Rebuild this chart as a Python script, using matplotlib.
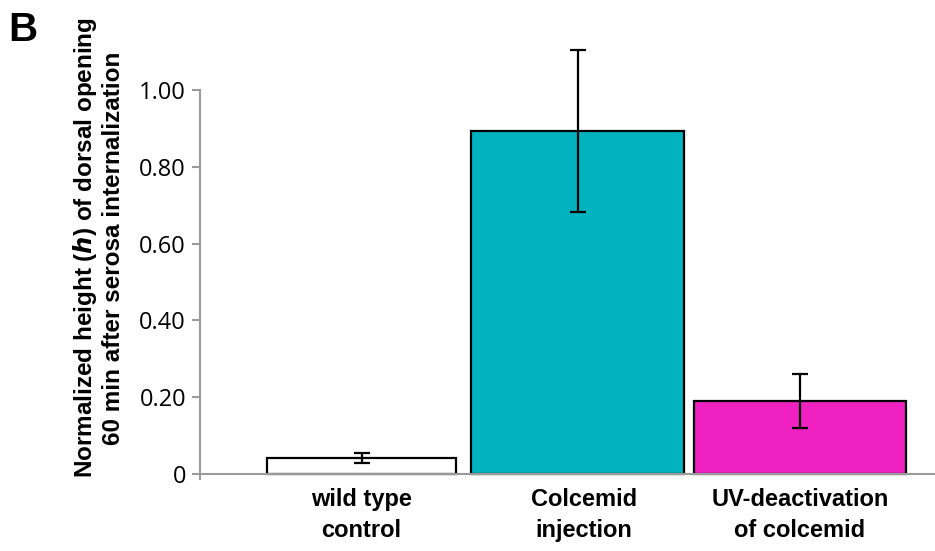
import numpy as np
import matplotlib.pyplot as plt

# data
groups = ["wild type\ncontrol", "Colcemid\ninjection", "UV-deactivation\nof colcemid"]
means = [0.042, 0.893, 0.190]
errors = [0.013, 0.210, 0.070]
colors = ["#FFFFFF", "#00B3BF", "#EF21C1"]
yticks = [0, 0.2, 0.4, 0.6, 0.8, 1.0]
ytick_labels = ["0", "0.20", "0.40", "0.60", "0.80", "1.00"]

fig = plt.figure(figsize=(9.35, 5.51), dpi=100)
ax = fig.add_axes([200 / 935, 71.6 / 551, 735 / 935, 389.4 / 551])

x = np.arange(len(groups)) + np.array([0.0, 0.0, 0.03])
widths = [0.875, 0.985, 0.985]

ax.bar(x, means, width=widths, color=colors, edgecolor="black", linewidth=1.6, zorder=2)
eb = ax.errorbar(x, means, yerr=errors, fmt="none", ecolor="black",
                 elinewidth=1.6, capsize=6, capthick=1.6, zorder=3)
for art in eb.lines[1] + eb.lines[2]:
    art.set_clip_on(False)

ax.set_xlim(-0.748, 2.655)
ax.set_ylim(-0.014, 1.0)
ax.spines["bottom"].set_position(("data", 0))
ax.spines["top"].set_visible(False)
ax.spines["right"].set_visible(False)
for s in ["left", "bottom"]:
    ax.spines[s].set_color("#9a9a9a")
    ax.spines[s].set_linewidth(1.5)

ax.set_yticks(yticks)
ax.set_yticklabels(ytick_labels, fontsize=17, family="Open Sans")
ax.tick_params(axis="y", direction="out", length=6, width=1.5, color="#9a9a9a", pad=4)

ax.set_xticks(np.arange(len(groups)) + np.array([0.0, 0.03, 0.03]))
ax.set_xticklabels(groups, fontsize=17, fontweight="bold", family="Liberation Sans",
                   linespacing=1.45)
ax.tick_params(axis="x", length=0, pad=10)

fig.text(98 / 935, 1 - 248 / 551,
         "Normalized height ($\\mathbfit{h}$) of dorsal opening\n60 min after serosa internalization",
         rotation=90, ha="center", va="center", fontsize=17.5, fontweight="bold",
         family="Liberation Sans", multialignment="center", linespacing=1.2)

fig.text(23 / 935, 1 - 30 / 551, "B", fontsize=29, fontweight="bold",
         family="Liberation Sans", ha="center", va="center")

plt.savefig("out.png", dpi=100)
